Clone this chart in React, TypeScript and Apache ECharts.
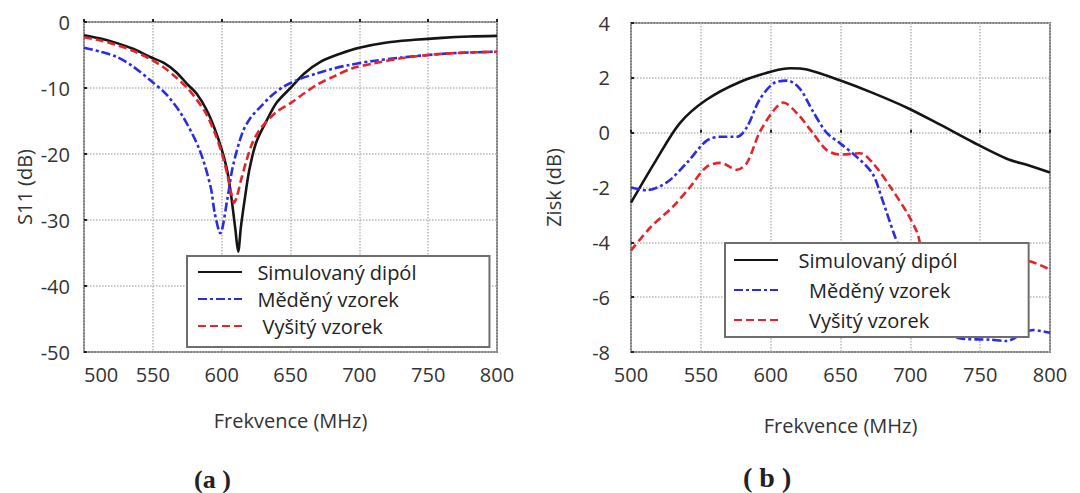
import React, { useEffect, useRef } from "react";
import * as echarts from "echarts";

// ---- Data (a): S11 vs frequency ----
const simFreqA = [500, 512, 524, 536, 548, 558, 567, 575, 582, 589, 595, 600, 604, 607, 610, 612, 614, 617, 620, 625, 633, 640, 650, 660, 672, 686, 700, 720, 740, 760, 780, 800];
const simS11 = [-2.0, -2.5, -3.2, -4.1, -5.3, -6.2, -7.6, -9.4, -10.9, -13.3, -16.2, -19.3, -22.5, -26.5, -31.5, -34.8, -31.0, -26.5, -22.5, -18.3, -14.8, -12.2, -10.0, -7.8, -6.0, -4.8, -3.9, -3.1, -2.7, -2.4, -2.2, -2.1];

const cuFreqA = [500, 512, 524, 536, 548, 560, 572, 584, 592, 595, 599, 604, 608, 615, 621, 628, 636, 645, 656, 669, 682, 693, 710, 730, 750, 770, 800];
const cuS11 = [-3.9, -4.5, -5.3, -6.8, -8.8, -11.0, -14.4, -19.4, -25.0, -29.0, -32.0, -27.0, -22.0, -16.8, -14.5, -12.9, -11.2, -9.8, -8.7, -7.8, -7.0, -6.5, -5.9, -5.4, -5.0, -4.7, -4.5];

const emFreqA = [500, 512, 524, 536, 548, 558, 567, 575, 582, 589, 595, 600, 604, 607, 609, 611, 614, 618, 622, 627, 633, 640, 650, 660, 670, 682, 695, 710, 730, 750, 770, 800];
const emS11 = [-2.3, -2.8, -3.5, -4.4, -5.6, -6.9, -8.4, -10.0, -11.8, -14.0, -16.8, -19.8, -23.0, -26.0, -27.4, -26.5, -24.0, -21.0, -18.5, -16.5, -15.0, -13.6, -12.3, -10.8, -9.4, -8.2, -7.0, -6.3, -5.5, -5.0, -4.7, -4.5];

// ---- Data (b): Gain vs frequency ----
const simFreqB = [500, 518, 535, 554, 578, 602, 614, 626, 650, 673, 698, 721, 745, 769, 785, 800];
const simGain = [-2.55, -1.0, 0.35, 1.2, 1.85, 2.25, 2.35, 2.3, 1.9, 1.45, 0.9, 0.3, -0.35, -0.95, -1.2, -1.45];

const cuFreqB = [500, 511, 526, 540, 554, 564, 576, 583, 592, 602, 612, 621, 630, 640, 650, 662, 673, 680, 688, 693, 705, 720, 735, 757, 769, 781, 788, 800];
const cuGain = [-2.0, -2.1, -1.8, -1.1, -0.3, -0.15, -0.15, 0.2, 1.2, 1.8, 1.9, 1.6, 0.8, 0.0, -0.4, -0.9, -1.5, -2.45, -3.65, -4.3, -5.6, -6.8, -7.5, -7.55, -7.6, -7.3, -7.2, -7.3];

const emFreqB = [500, 514, 530, 542, 554, 564, 576, 583, 592, 602, 609, 619, 630, 640, 650, 664, 673, 686, 698, 705, 709, 730, 760, 786, 800];
const emGain = [-4.3, -3.45, -2.7, -2.0, -1.25, -1.1, -1.35, -1.1, 0.0, 0.8, 1.1, 0.7, 0.0, -0.63, -0.8, -0.75, -1.1, -2.0, -2.95, -3.65, -4.2, -4.4, -4.5, -4.7, -5.0];

const seriesNames = ["Simulovaný dipól", "Měděný vzorek", "Vyšitý vzorek"];
const xTicks = { min: 500, max: 800, interval: 50 };
const s11Ticks = { min: -50, max: 0, interval: 10 };
const gainTicks = { min: -8, max: 4, interval: 2 };

const zip = (xs: number[], ys: number[]) => xs.map((x, i) => [x, ys[i]]);

const FONT = "Open Sans";
const BLACK = "#151515";
const BLUE = "#2c2ce0";
const RED = "#e2252b";

export default function App() {
  const ref = useRef<HTMLDivElement>(null);
  useEffect(() => {
    if (!ref.current) return;
    const chart = echarts.init(ref.current, null, { renderer: "svg" });

    const xAxisBase = (gridIndex: number, nameGap: number, alignMin: boolean) => ({
      type: "value",
      gridIndex,
      min: xTicks.min,
      max: xTicks.max,
      interval: xTicks.interval,
      name: "Frekvence (MHz)",
      nameLocation: "middle",
      nameGap,
      nameTextStyle: { fontFamily: FONT, fontSize: 20, color: "#333" },
      axisLine: { show: false },
      axisTick: { show: true, inside: true, length: 3, lineStyle: { color: "#222", width: 2 } },
      axisLabel: { fontFamily: FONT, fontSize: 20, color: "#333", margin: 12, alignMinLabel: alignMin ? "left" : "center" },
      splitLine: { show: true, lineStyle: { type: "dotted", color: "#b8b8b8", width: 1.5 } },
    });

    const yAxisBase = (gridIndex: number, name: string, ticks: any, nameGap: number, margin: number) => ({
      type: "value",
      gridIndex,
      min: ticks.min,
      max: ticks.max,
      interval: ticks.interval,
      name,
      nameLocation: "middle",
      nameGap,
      nameTextStyle: { fontFamily: FONT, fontSize: 20, color: "#333" },
      axisLine: { show: false },
      axisTick: { show: true, inside: true, length: 3, lineStyle: { color: "#222", width: 2 } },
      axisLabel: { fontFamily: FONT, fontSize: 20, color: "#333", margin },
      splitLine: { show: true, lineStyle: { type: "dotted", color: "#b8b8b8", width: 1.5 } },
    });

    const mkSeries = (name: string, data: number[][], idx: number, color: string, type: any) => ({
      name,
      type: "line",
      xAxisIndex: idx,
      yAxisIndex: idx,
      data,
      showSymbol: false,
      symbol: "none",
      smooth: 0.3,
      lineStyle: { color, width: 2.6, type },
      itemStyle: { color },
      z: 2,
    });

    const dashDot = [9, 3, 3, 3];
    const dashed = [8, 4];

    const legendBase = (left: number, top: number, padding: number[], gap: number, spaces: string[]) => ({
      left,
      top,
      orient: "vertical",
      data: seriesNames,
      backgroundColor: "#fff",
      borderColor: "#6e6e6e",
      borderWidth: 2,
      padding,
      itemWidth: 44,
      itemHeight: 14,
      itemGap: gap,
      selectedMode: false,
      itemStyle: { opacity: 0 },
      formatter: (n: string) => spaces[seriesNames.indexOf(n)] + n,
      textStyle: { fontFamily: FONT, fontSize: 20, color: "#222", lineHeight: 22 },
      z: 10,
    });

    chart.setOption({
      animation: false,
      backgroundColor: "#fff",
      grid: [
        { left: 84, top: 22, width: 413, height: 330, show: true, borderColor: "#7e7e7e", borderWidth: 2, backgroundColor: "transparent" },
        { left: 631, top: 23, width: 419, height: 329, show: true, borderColor: "#7e7e7e", borderWidth: 2, backgroundColor: "transparent" },
      ],
      xAxis: [xAxisBase(0, 58, true), xAxisBase(1, 63, false)],
      yAxis: [yAxisBase(0, "S11 (dB)", s11Ticks, 50, 14), yAxisBase(1, "Zisk (dB)", gainTicks, 68, 21)],
      legend: [
        legendBase(187, 256, [5, 73, 10, 10], 5, ["  ", "  ", "   "]),
        legendBase(725, 243, [6, 71, 6, 8], 8, ["   ", "     ", "     "]),
      ],
      series: [
        mkSeries(seriesNames[0], zip(simFreqA, simS11), 0, BLACK, "solid"),
        mkSeries(seriesNames[1], zip(cuFreqA, cuS11), 0, BLUE, dashDot),
        mkSeries(seriesNames[2], zip(emFreqA, emS11), 0, RED, dashed),
        mkSeries(seriesNames[0], zip(simFreqB, simGain), 1, BLACK, "solid"),
        mkSeries(seriesNames[1], zip(cuFreqB, cuGain), 1, BLUE, dashDot),
        mkSeries(seriesNames[2], zip(emFreqB, emGain), 1, RED, dashed),
      ],
      graphic: [
        { type: "text", left: 194, top: 466, style: { text: "(a )", font: "bold 26px 'Liberation Serif', serif", fill: "#222" } },
        { type: "text", left: 743, top: 463, style: { text: "( b )", font: "bold 28px 'Liberation Serif', serif", fill: "#222" } },
      ],
    } as any);

    return () => chart.dispose();
  }, []);

  return <div ref={ref} style={{ position: "absolute", left: 0, top: 0, width: 1080, height: 493 }} />;
}
